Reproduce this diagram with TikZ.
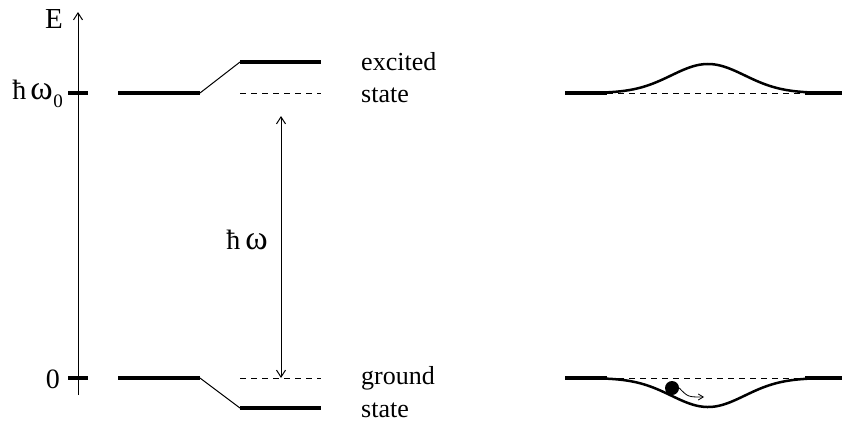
\documentclass[tikz,border=0pt]{standalone}
\usepackage{fontspec}
\setmainfont{Liberation Serif}
\usetikzlibrary{arrows.meta}
\newcommand{\myhb}{{\fontsize{28}{30}\selectfont ħ}}
\newcommand{\myom}{{\fontsize{34}{36}\selectfont ω}}
\begin{document}
\begin{tikzpicture}[x=1pt,y=-1pt,
  level/.style={line width=4pt},
  thinline/.style={line width=1pt},
  dashline/.style={line width=0.9pt,dash pattern=on 6pt off 5pt},
  curve/.style={line width=2.5pt},
  lbl/.style={font=\fontsize{26}{30}\selectfont,inner sep=0pt},
  arr/.style={-{Straight Barb[length=7pt,width=9pt]},line width=1pt}]
\useasboundingbox (0,0) rectangle (842,423);
% axis
\coordinate (axb) at (78,395);
\coordinate (axt) at (78,12);
\draw[arr] (axb) -- (axt);
\node[lbl,font=\fontsize{29}{30}\selectfont,anchor=east] (E) at (63,19) {E};
\coordinate (t1a) at (68,93); \coordinate (t1b) at (88,93);
\coordinate (t0a) at (68,378); \coordinate (t0b) at (88,378);
\draw[level] (t1a) -- (t1b);
\draw[level] (t0a) -- (t0b);
\node[lbl,anchor=east] (hw0) at (63,94) {\myhb\hspace{4pt}\myom\hspace{0.5pt}\raisebox{-8pt}{\fontsize{19}{20}\selectfont 0}};
\node[lbl,font=\fontsize{28}{30}\selectfont,anchor=east] (zero) at (60,379) {0};
% left levels
\coordinate (e1) at (118,93); \coordinate (e2) at (200,93);
\coordinate (e3) at (240,62); \coordinate (e4) at (321,62);
\coordinate (d1) at (240,93); \coordinate (d2) at (321,93);
\draw[level] (e1) -- (e2);
\draw[thinline] (e2) -- (e3);
\draw[level] (e3) -- (e4);
\draw[dashline] (d1) -- (d2);
\coordinate (g1) at (118,378); \coordinate (g2) at (200,378);
\coordinate (g3) at (240,408); \coordinate (g4) at (321,408);
\coordinate (h1) at (240,378); \coordinate (h2) at (321,378);
\draw[level] (g1) -- (g2);
\draw[thinline] (g2) -- (g3);
\draw[level] (g3) -- (g4);
\draw[dashline] (h1) -- (h2);
% transition arrow
\coordinate (wa) at (281,116); \coordinate (wb) at (281,378);
\draw[arr,{Straight Barb[length=7pt,width=9pt]}-{Straight Barb[length=7pt,width=9pt]}] (wa) -- (wb);
\node[lbl] (hw) at (247,240) {\myhb\hspace{5pt}\myom};
% state labels
\node[lbl,anchor=west] (exc) at (361,62) {excited};
\node[lbl,anchor=west] (exs) at (361,95) {state};
\node[lbl,anchor=west] (gro) at (361,378) {ground};
\node[lbl,anchor=west] (grs) at (361,410) {state};
% right: excited
\coordinate (r1) at (565,93); \coordinate (r2) at (607,93);
\coordinate (r3) at (805,93); \coordinate (r4) at (842,93);
\draw[level] (r1) -- (r2);
\draw[level] (r3) -- (r4);
\draw[dashline] (r2) -- (r3);
\draw[curve,domain=605:807,samples=80,smooth] plot (\x,{93-29*exp(-((\x-708)/52)^2)});
% right: ground
\coordinate (s1) at (565,378); \coordinate (s2) at (607,378);
\coordinate (s3) at (805,378); \coordinate (s4) at (842,378);
\draw[level] (s1) -- (s2);
\draw[level] (s3) -- (s4);
\draw[dashline] (s2) -- (s3);
\draw[curve,domain=605:807,samples=80,smooth] plot (\x,{378+29*exp(-((\x-708)/52)^2)});
% ball
\node[circle,fill=black,minimum size=14pt,inner sep=0pt] (ball) at (672,388) {};
\coordinate (ba) at (704,397);
\draw[-{Straight Barb[length=5pt,width=6pt]},line width=0.8pt] (ball.east) .. controls (688,397) .. (ba);
\end{tikzpicture}
\end{document}
